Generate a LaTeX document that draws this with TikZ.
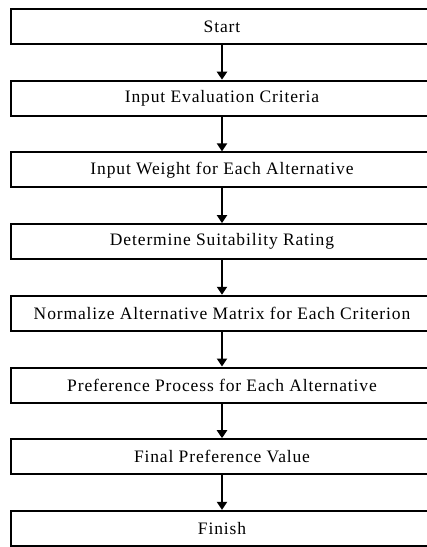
\documentclass[tikz,border=0pt]{standalone}
\usepackage{fontspec}
\setmainfont[LetterSpace=5]{Liberation Serif}
\usetikzlibrary{arrows.meta}
\begin{document}
\begin{tikzpicture}[x=1pt,y=1pt,
  stepbox/.style={draw=black, line width=2pt, minimum width=422pt, minimum height=35pt, inner sep=0pt, font=\fontsize{17.5}{20}\selectfont},
  flow/.style={line width=2.8pt, -{Triangle[width=10pt,length=8pt]}}]
\useasboundingbox (0,0) rectangle (427,-547);
\node[stepbox] (s) at (222,-26.5) {Start};
\node[stepbox] (a) at (222,-98.2) {Input Evaluation Criteria};
\node[stepbox] (b) at (222,-169.9) {Input Weight for Each Alternative};
\node[stepbox] (c) at (222,-241.6) {Determine Suitability Rating};
\node[stepbox] (d) at (222,-313.3) {Normalize Alternative Matrix for Each Criterion};
\node[stepbox] (e) at (222,-385.0) {Preference Process for Each Alternative};
\node[stepbox] (f) at (222,-456.7) {Final Preference Value};
\node[stepbox] (g) at (222,-528.4) {Finish};
\foreach \u/\v in {s/a,a/b,b/c,c/d,d/e,e/f,f/g}
  \draw[flow] (\u.south) -- (\v.north);
\end{tikzpicture}
\end{document}
